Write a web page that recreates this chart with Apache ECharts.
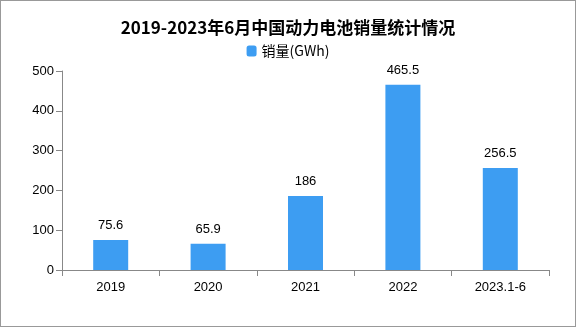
<!DOCTYPE html>
<html><head><meta charset="utf-8">
<script src="https://cdn.jsdelivr.net/npm/echarts@6/dist/echarts.min.js"></script>
<style>html,body{margin:0;padding:0;background:#fff}#c{width:576px;height:327px;box-sizing:border-box;border:1px solid #999}</style>
</head><body><div id="c"></div>
<script>
const categories = ['2019','2020','2021','2022','2023.1-6'];
const sales = [75.6, 65.9, 186, 465.5, 256.5];
const yTicks = [0,100,200,300,400,500];
const chart = echarts.init(document.getElementById('c'));
const F = 'Liberation Sans';
chart.setOption({
  animation:false,
  title:{text:'2019-2023年6月中国动力电池销量统计情况',left:'center',top:13,
    textStyle:{fontFamily:'Noto Sans CJK SC',fontSize:17,fontWeight:'bold',color:'#000'}},
  legend:{data:['销量(GWh)'],top:38,left:'center',itemWidth:10,itemHeight:11,itemGap:4,
    textStyle:{fontFamily:'Noto Sans CJK SC',fontSize:14,color:'#000'}},
  grid:{left:61,right:26,top:70,bottom:56},
  xAxis:{type:'category',data:categories,
    axisLine:{lineStyle:{color:'#888'}},
    axisTick:{show:true,length:6,lineStyle:{color:'#888'}},
    axisLabel:{color:'#000',fontSize:13,margin:11,fontFamily:F}},
  yAxis:{type:'value',min:yTicks[0],max:yTicks[yTicks.length-1],interval:100,
    axisLine:{show:true,lineStyle:{color:'#888'}},
    axisTick:{show:true,length:6,lineStyle:{color:'#888'}},
    splitLine:{show:false},
    axisLabel:{color:'#000',fontSize:13,margin:8,fontFamily:F}},
  series:[{name:'销量(GWh)',type:'bar',data:sales,barWidth:35,
    itemStyle:{color:'#3d9df2'},
    label:{show:true,position:'top',distance:8,color:'#000',fontSize:13,fontFamily:F}}]
});
</script></body></html>
